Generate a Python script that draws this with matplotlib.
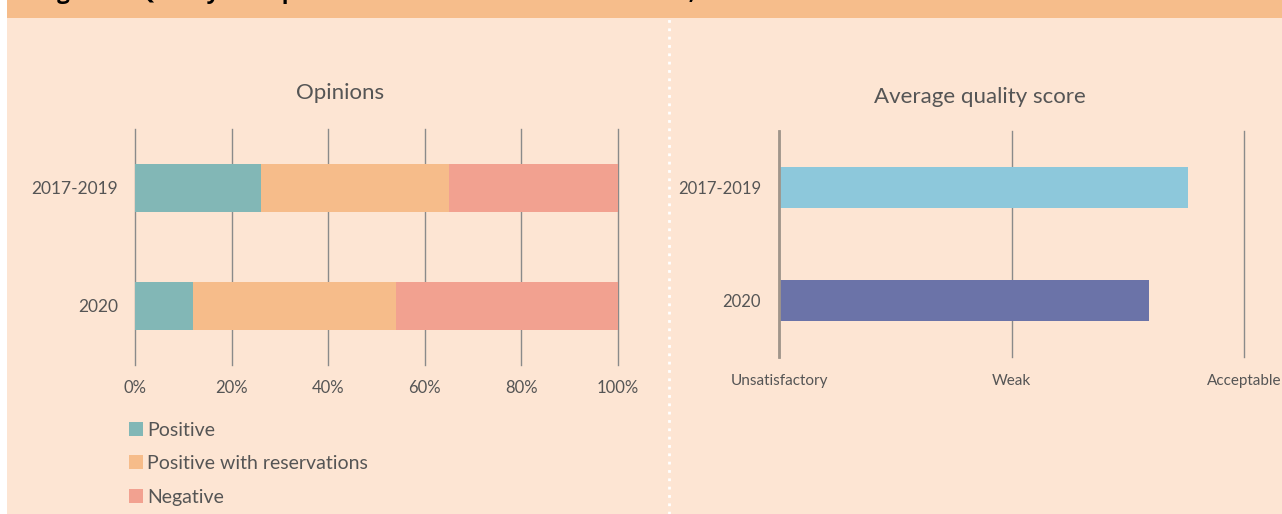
import matplotlib
matplotlib.use("Agg")
import matplotlib.pyplot as plt
from matplotlib.patches import Rectangle
from matplotlib.lines import Line2D

# ---- data ----
periods = ["2017-2019", "2020"]
opinion_labels = ["Positive", "Positive with reservations", "Negative"]
positive = [26, 12]
reservations = [39, 42]
negative = [35, 46]
pct_ticks = [0, 20, 40, 60, 80, 100]
pct_labels = ["0%", "20%", "40%", "60%", "80%", "100%"]

score_levels = ["Unsatisfactory", "Weak", "Acceptable"]
avg_score = [1.76, 1.59]  # 0=Unsatisfactory, 1=Weak, 2=Acceptable

# ---- style ----
FONT = "Lato"
TXT = "#555555"
BANNER = "#F6BD8B"
PANEL = "#FDE5D3"
GRID = "#8A8A8A"
op_colors = ["#82B7B6", "#F6BC8A", "#F2A190"]
score_colors = ["#8DC8DB", "#6B73A8"]

W, H = 1282, 514
fig = plt.figure(figsize=(W / 100, H / 100), dpi=100, facecolor="white")

def fx(px):
    return px / W

def fy(py):
    return 1 - py / H

# background panels
fig.patches.append(Rectangle((fx(7), 0), 1 - fx(7), fy(18), transform=fig.transFigure,
                             facecolor=PANEL, edgecolor="none", zorder=-5))
fig.patches.append(Rectangle((fx(7), fy(18)), 1 - fx(7), 1 - fy(18), transform=fig.transFigure,
                             facecolor=BANNER, edgecolor="none", zorder=-5))
fig.lines.append(Line2D([fx(669), fx(669)], [0, fy(18)], transform=fig.transFigure,
                        color="white", linestyle=(0, (1, 2)), linewidth=2, zorder=-4))
# banner title, cut off at the top edge as in the source (only descenders visible)
fig.text(fx(38), fy(-1), "Figure 2: Quality of impact assessments at first submission, 2017-2020",
         fontsize=16, fontweight="bold", family="Open Sans", color="black", va="baseline", ha="left")

# ---- left chart: opinions ----
ax1 = fig.add_axes([fx(135), fy(365), fx(618) - fx(135), (365 - 129) / H])
ax1.set_facecolor("none")
ypos = list(range(len(periods)))
left = [0] * len(periods)
for vals, col, lab in zip([positive, reservations, negative], op_colors, opinion_labels):
    ax1.barh(ypos, vals, left=left, height=0.4, color=col, label=lab, zorder=2)
    left = [a + b for a, b in zip(left, vals)]
ax1.set_xlim(0, 100)
ax1.set_ylim(1.5, -0.5)
ax1.set_xticks(pct_ticks)
ax1.set_xticklabels(pct_labels)
ax1.set_yticks(ypos)
ax1.set_yticklabels(periods)
ax1.xaxis.grid(True, color=GRID, linewidth=1, zorder=1)
ax1.set_axisbelow(True)
for gl in ax1.get_xgridlines():
    gl.set_clip_on(False)
for s in ax1.spines.values():
    s.set_visible(False)
ax1.tick_params(axis="x", length=0, pad=11, labelsize=12, labelcolor=TXT)
ax1.tick_params(axis="y", length=0, pad=12, labelsize=12.5, labelcolor=TXT)
for t in ax1.get_xticklabels() + ax1.get_yticklabels():
    t.set_family(FONT)
fig.text(fx(340), fy(93), "Opinions", ha="center", va="center", fontsize=16, color=TXT, family=FONT)

leg = ax1.legend(loc="upper left", bbox_to_anchor=(fx(111), fy(404)), bbox_transform=fig.transFigure,
                 frameon=False, handlelength=0.75, handleheight=0.75, handletextpad=0.2,
                 labelspacing=0.85, prop={"family": FONT, "size": 14})
for t in leg.get_texts():
    t.set_color(TXT)

# ---- right chart: average quality score ----
ax2 = fig.add_axes([fx(779), fy(357), fx(1244) - fx(779), (357 - 131) / H])
ax2.set_facecolor("none")
ax2.barh(ypos, avg_score, height=0.36, color=score_colors, zorder=2)
ax2.set_xlim(0, 2)
ax2.set_ylim(1.5, -0.5)
ax2.set_xticks(range(len(score_levels)))
ax2.set_xticklabels(score_levels)
ax2.set_yticks(ypos)
ax2.set_yticklabels(periods)
ax2.xaxis.grid(True, color=GRID, linewidth=1, zorder=1)
for gl in ax2.get_xgridlines():
    gl.set_clip_on(False)
ax2.axvline(0, color="#A0958A", linewidth=2, zorder=3, clip_on=False)
ax2.set_axisbelow(True)
for s in ax2.spines.values():
    s.set_visible(False)
ax2.tick_params(axis="x", length=0, pad=12, labelsize=11, labelcolor=TXT)
ax2.tick_params(axis="y", length=0, pad=13, labelsize=12, labelcolor=TXT)
for t in ax2.get_xticklabels() + ax2.get_yticklabels():
    t.set_family(FONT)
fig.text(fx(980), fy(97), "Average quality score", ha="center", va="center", fontsize=16,
         color=TXT, family=FONT)

fig.savefig("out.png", dpi=100, facecolor=fig.get_facecolor())
